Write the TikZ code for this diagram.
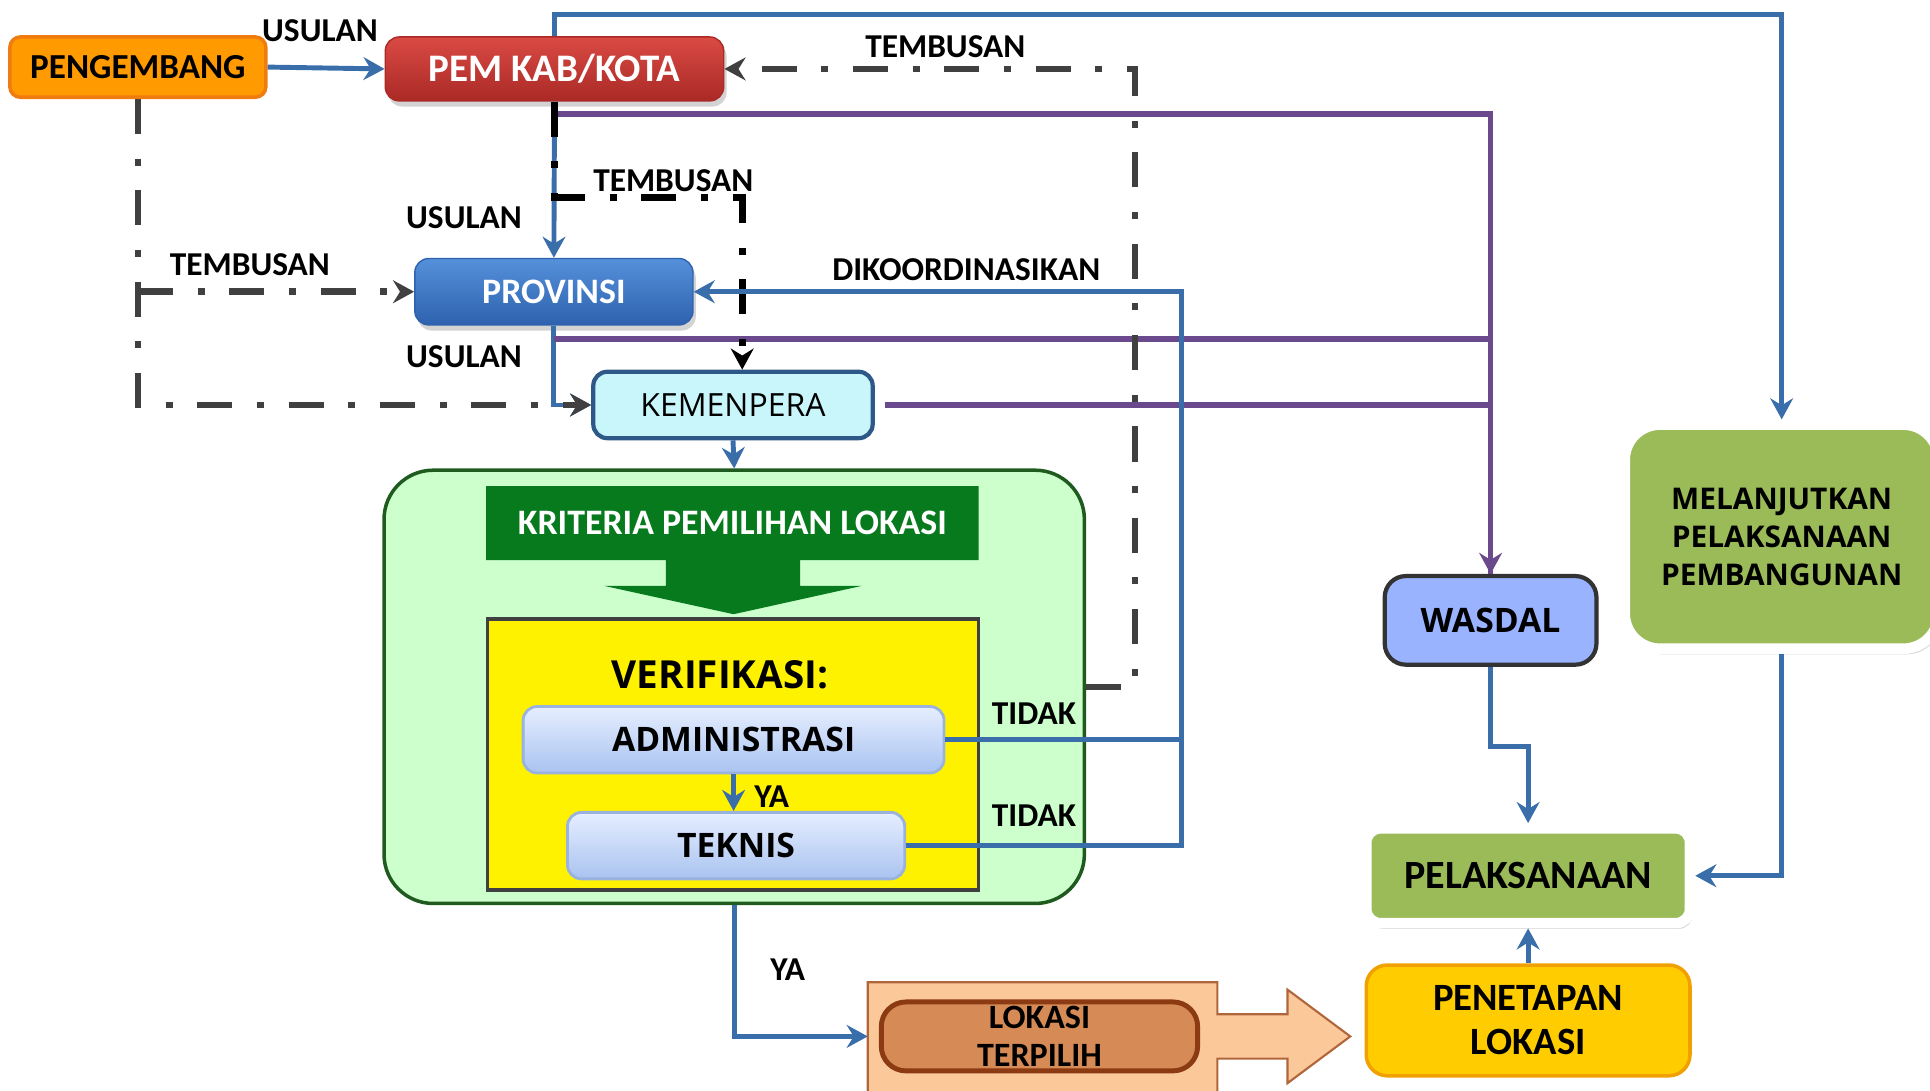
\documentclass[tikz,border=0pt]{standalone}
\usepackage{fontspec}
\setmainfont{Carlito}
\newfontfamily\opensans{Open Sans}
\usetikzlibrary{arrows.meta,calc,shadows}
\definecolor{lnblue}{HTML}{3A6EAA}
\definecolor{lnpurp}{HTML}{6A4A8C}
\definecolor{dashgray}{HTML}{404040}
\definecolor{orng}{HTML}{FF9A00}
\definecolor{orngedge}{HTML}{F07C10}
\definecolor{redtop}{HTML}{DA4A44}
\definecolor{redbot}{HTML}{AA2A26}
\definecolor{bluetop}{HTML}{5590DA}
\definecolor{bluebot}{HTML}{2E62AE}
\definecolor{cyanfill}{HTML}{C8F6FB}
\definecolor{regionfill}{HTML}{CCFFCC}
\definecolor{regionedge}{HTML}{1F5A1F}
\definecolor{kritgreen}{HTML}{087A1E}
\definecolor{vertop}{HTML}{E6EEFF}
\definecolor{verbot}{HTML}{A9C3F0}
\definecolor{veredge}{HTML}{9AB2DE}
\definecolor{peach}{HTML}{FBC89A}
\definecolor{peachedge}{HTML}{B0663A}
\definecolor{brownfill}{HTML}{D68B56}
\definecolor{brownedge}{HTML}{8B3A12}
\definecolor{gold}{HTML}{FFCC00}
\definecolor{goldedge}{HTML}{F0A000}
\definecolor{olive}{HTML}{9BBB59}
\definecolor{wasdalfill}{HTML}{99B3FF}
\newcommand{\pu}{0.012309cm}

\begin{document}
\begin{tikzpicture}[x=0.012309cm,y=-0.012309cm,
    sz/.style 2 args={minimum width=#1*\pu,minimum height=#2*\pu,inner sep=0pt},
    bx/.style={rounded corners=4pt,align=center},
    tip/.style={-{Stealth[length=6pt,width=6.5pt,inset=2pt]}},
    bluel/.style={draw=lnblue,line width=1.4pt},
    purpl/.style={draw=lnpurp,line width=1.6pt},
    dashdot/.style={draw=dashgray,line width=1.9pt,dash pattern=on 10pt off 7pt on 2pt off 7pt},
    lbl/.style={font=\bfseries\fontsize{9.5}{11}\selectfont,inner sep=0pt},
    shd/.style={drop shadow={opacity=0.35,shadow xshift=0.8pt,shadow yshift=-1.6pt}},
    verbox/.style={bx,sz={#1}{54},top color=vertop,bottom color=verbot,draw=veredge,line width=0.8pt,
      font=\opensans\bfseries\fontsize{9.6}{11}\selectfont},
    greenbox/.style={bx,fill=olive,draw=white,line width=3pt,shd}]
\useasboundingbox (0,0) rectangle (1568,886);

% region verifikasi
\node[sz={569}{352},rounded corners=14pt,fill=regionfill,draw=regionedge,line width=1pt] (region) at (596.5,558) {};
\fill[kritgreen] (395,395) -- (795,395) -- (795,455) -- (650,455) -- (650,476) -- (700,476) -- (596,499)
  -- (491,476) -- (541,476) -- (541,455) -- (395,455) -- cycle;
\node[text=white,font=\bfseries\fontsize{10.2}{12}\selectfont] (kriteria) at (595,425) {KRITERIA PEMILIHAN LOKASI};
\node[sz={399}{220},fill=yellow,draw=black!75,line width=1pt] (verif) at (595.5,613) {};
\node[font=\opensans\bfseries\fontsize{11}{13}\selectfont] (veriftxt) at (585,548) {VERIFIKASI:};
\node[verbox=342] (admin) at (596,601) {ADMINISTRASI};
\node[verbox=274] (teknis) at (598,687) {TEKNIS};

% kotak atas
\node[bx,sz={208}{49},fill=orng,draw=orngedge,line width=1pt,rounded corners=3pt,
  font=\bfseries\fontsize{10}{12}\selectfont] (pengembang) at (112,54.5) {PENGEMBANG};
\node[bx,sz={275}{52},top color=redtop,bottom color=redbot,draw=redbot,text=white,shd,
  font=\bfseries\fontsize{11.1}{13}\selectfont] (pemkab) at (450.5,56) {PEM KAB/KOTA};
\node[bx,sz={226}{54},top color=bluetop,bottom color=bluebot,draw=bluebot,text=white,shd,
  font=\bfseries\fontsize{10.2}{12}\selectfont] (provinsi) at (450,237) {PROVINSI};
\node[bx,sz={227}{54},fill=cyanfill,draw=lnblue!80!black,line width=1.2pt,
  font=\opensans\fontsize{9.1}{11}\selectfont] (kemenpera) at (595.5,329) {KEMENPERA};

% kotak kanan
\node[bx,sz={172}{72},fill=wasdalfill,draw=black!80,line width=1.2pt,rounded corners=6pt,
  font=\opensans\bfseries\fontsize{9.6}{11}\selectfont] (wasdal) at (1211,504) {WASDAL};
\node[greenbox,sz={255}{182},rounded corners=10pt,
  font=\opensans\bfseries\fontsize{8.5}{10.8}\selectfont] (lanjut) at (1447.5,436) {MELANJUTKAN\\PELAKSANAAN\\PEMBANGUNAN};
\node[greenbox,sz={263}{77},font=\bfseries\fontsize{11.4}{13}\selectfont] (pelaksanaan) at (1241.5,711.5) {PELAKSANAAN};
\node[bx,sz={263}{90},fill=gold,draw=goldedge,line width=1pt,rounded corners=6pt,
  font=\bfseries\fontsize{11}{12.6}\selectfont] (penetapan) at (1241.5,829) {PENETAPAN\\LOKASI};

% lokasi terpilih
\filldraw[fill=peach,draw=peachedge,line width=0.6pt] (705,798) -- (989,798) -- (989,824) -- (1046,824) -- (1046,804)
  -- (1097,842) -- (1046,880) -- (1046,860) -- (989,860) -- (989,890) -- (705,890) -- cycle;
\node[bx,sz={257}{56},fill=brownfill,draw=brownedge,line width=1.4pt,rounded corners=7pt,
  font=\bfseries\fontsize{9.7}{10.8}\selectfont] (lokasi) at (844.5,842) {LOKASI\\TERPILIH};
\coordinate (lokin) at (705,842);

% garis usulan
\draw[bluel,tip] (pengembang.east) -- (pemkab.west);
\draw[bluel,tip] (pemkab.south) -- (provinsi.north);
\draw[bluel,tip] (provinsi.south) |- (kemenpera.west);
\draw[bluel,tip] (kemenpera.south) -- (region.north);
\draw[bluel,tip] (pemkab.north) -- ++(0,-18) -| (lanjut.north);

% garis ungu
\draw[purpl,tip] ($(pemkab.south)+(0,10)$) -| (wasdal.north);
\draw[purpl] ($(provinsi.south)+(0,11)$) -| (wasdal.north);
\draw[purpl] ($(kemenpera.east)+(8,0)$) -| (wasdal.north);

% tembusan
\draw[dashdot,tip] (pengembang.south) |- (kemenpera.west);
\draw[dashdot,tip] (pengembang.south |- provinsi.west) -- (provinsi.west);
\draw[dashdot,draw=black,tip] (pemkab.south) -- ++(0,78) -| ($(kemenpera.north)+(7.5,0)$);
\coordinate (tb) at (922,558);
\draw[dashdot,tip] (region.east) -- (tb) |- (pemkab.east);

% dikoordinasikan
\coordinate (dk) at (960,601);
\draw[bluel,tip] (admin.east) -- (dk) |- (provinsi.east);
\draw[bluel] (teknis.east) -| (dk);
\draw[bluel,tip] (admin.south) -- (admin.south |- teknis.north);
\draw[bluel,tip] (region.south) |- (lokin);

% pelaksanaan
\draw[bluel,tip] (penetapan.north) -- (pelaksanaan.south);
\draw[bluel,tip] (wasdal.south) -- ++(0,65) -| (pelaksanaan.north);
\draw[bluel,tip] (lanjut.south) |- (pelaksanaan.east);

% label
\node[lbl] (u1) at (260,25) {USULAN};
\node[lbl] (u2) at (377,177) {USULAN};
\node[lbl] (u3) at (377,290) {USULAN};
\node[lbl] (t1) at (768,38) {TEMBUSAN};
\node[lbl] (t2) at (547,147) {TEMBUSAN};
\node[lbl] (t3) at (203,215) {TEMBUSAN};
\node[lbl] (dkl) at (785,219) {DIKOORDINASIKAN};
\node[lbl] (td1) at (840,580) {TIDAK};
\node[lbl] (td2) at (840,663) {TIDAK};
\node[lbl] (ya1) at (627,647) {YA};
\node[lbl] (ya2) at (640,788) {YA};
\end{tikzpicture}
\end{document}
